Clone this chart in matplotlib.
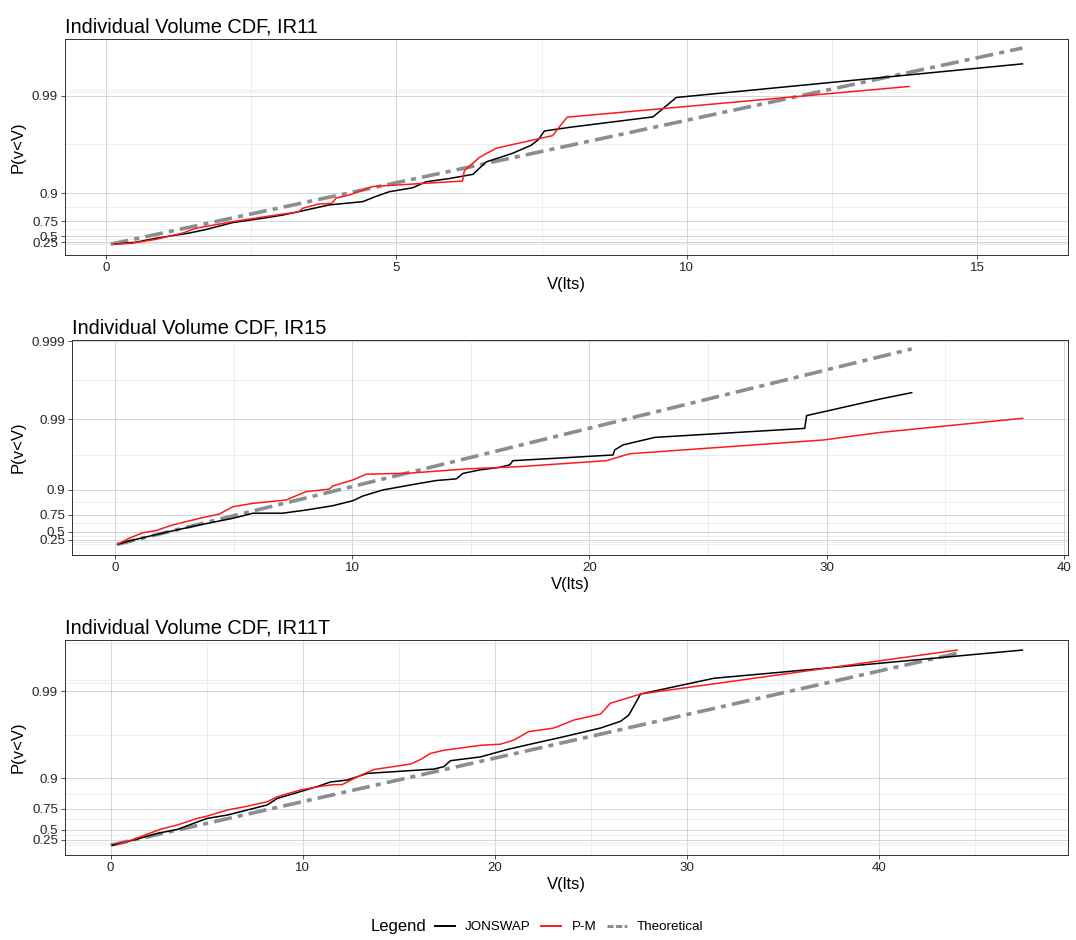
import numpy as np
import matplotlib
matplotlib.use('Agg')
import matplotlib.pyplot as plt
from matplotlib.lines import Line2D

plt.rcParams['font.family'] = ['Liberation Sans', 'DejaVu Sans']

# ---- data (V in lts, P = P(v<V)) ----
# IR11
jon1_v = [0.14, 0.51, 0.86, 1.43, 1.72, 2.18, 2.69, 3.04, 3.39, 3.84, 4.42, 4.65, 4.88, 5.28,
          5.51, 5.91, 6.32, 6.43, 6.55, 7.00, 7.32, 7.44, 7.55, 7.98, 9.42, 9.82, 15.78]
jon1_p = [0.05, 0.25, 0.44, 0.58, 0.645, 0.735, 0.775, 0.80, 0.828, 0.858, 0.872, 0.891, 0.905, 0.915,
          0.928, 0.934, 0.941, 0.9495, 0.957, 0.965, 0.971, 0.9743, 0.979, 0.9806, 0.9845, 0.9896, 0.99457]
pm1_v = [0.14, 0.45, 0.86, 1.32, 1.55, 2.18, 2.69, 3.32, 3.39, 3.66, 3.89, 3.96, 4.19, 4.59,
         6.14, 6.17, 6.43, 6.72, 7.69, 7.94, 13.83]
pm1_p = [0.04, 0.17, 0.40, 0.58, 0.665, 0.745, 0.785, 0.822, 0.842, 0.862, 0.865, 0.885, 0.8955, 0.918,
         0.9295, 0.946, 0.9614, 0.969, 0.9767, 0.9844, 0.99164]
th1_v = [0.08, 15.78]
th1_p = [0.03, 0.99594]

# IR15
jon2_v = [0.11, 0.60, 2.15, 3.56, 4.96, 5.53, 5.81, 7.07, 8.06, 9.18, 10.03, 10.45, 11.29, 12.70,
          13.54, 14.39, 14.67, 15.37, 16.22, 16.64, 16.78, 21.0, 21.07, 21.42, 22.76, 29.08, 29.16,
          32.25, 33.59]
jon2_p = [0.005, 0.205, 0.482, 0.623, 0.712, 0.748, 0.765, 0.765, 0.792, 0.823, 0.853, 0.876, 0.90, 0.919,
          0.928, 0.932, 0.9435, 0.9497, 0.954, 0.9575, 0.963, 0.9693, 0.9739, 0.9778, 0.9825, 0.9868, 0.9911,
          0.9946, 0.99554]
pm2_v = [0.11, 0.60, 1.16, 1.73, 2.43, 3.56, 4.40, 4.96, 5.81, 7.22, 8.06, 9.04, 9.18, 10.03,
         10.59, 12.42, 14.81, 17.06, 20.72, 21.70, 29.86, 32.25, 38.27]
pm2_p = [0.005, 0.311, 0.47, 0.52, 0.623, 0.712, 0.757, 0.816, 0.838, 0.857, 0.894, 0.903, 0.913, 0.9294,
         0.942, 0.944, 0.9514, 0.955, 0.963, 0.9705, 0.9810, 0.9850, 0.99033]
th2_v = [0.10, 33.59]
th2_p = [0.005, 0.99875]

# IR11T
jon3_v = [0.09, 1.21, 2.43, 3.47, 4.34, 5.03, 6.07, 7.11, 8.15, 8.67, 9.89, 10.75, 11.45, 12.32,
          13.36, 16.82, 17.34, 17.69, 19.25, 20.64, 21.85, 23.58, 25.49, 26.54, 26.97, 27.58, 31.39,
          36.59, 40.06, 45.27, 47.45]
jon3_p = [0.02, 0.245, 0.423, 0.50, 0.60, 0.66, 0.695, 0.741, 0.779, 0.819, 0.853, 0.873, 0.889, 0.895,
          0.913, 0.923, 0.928, 0.939, 0.945, 0.955, 0.961, 0.968, 0.9745, 0.9786, 0.9818, 0.9893, 0.99275,
          0.99419, 0.99498, 0.99599, 0.99634]
pm3_v = [0.26, 1.21, 2.60, 3.47, 4.51, 5.03, 6.07, 7.11, 8.15, 8.67, 9.89, 10.93, 11.62, 12.05,
         12.83, 13.70, 15.61, 16.13, 16.65, 17.34, 19.25, 20.29, 20.98, 21.76, 23.06, 24.11, 25.49,
         26.01, 27.58, 44.05]
pm3_p = [0.02, 0.27, 0.505, 0.574, 0.66, 0.685, 0.741, 0.77, 0.80, 0.828, 0.86, 0.874, 0.88, 0.88,
         0.904, 0.922, 0.933, 0.941, 0.950, 0.954, 0.9598, 0.961, 0.965, 0.972, 0.9745, 0.9793, 0.9822,
         0.9865, 0.9893, 0.99634]
th3_v = [0.0, 44.05]
th3_p = [0.02, 0.99604]

titles = ['Individual Volume CDF, IR11', 'Individual Volume CDF, IR15', 'Individual Volume CDF, IR11T']
shape_exp = [1.55, 1.2, 1.2]
p_ticks = [[0.25, 0.5, 0.75, 0.9, 0.99],
           [0.25, 0.5, 0.75, 0.9, 0.99, 0.999],
           [0.25, 0.5, 0.75, 0.9, 0.99]]
p_extra = [[0.9906, 0.9910], [], [0.9918, 0.99244]]
v_ticks = [[0, 5, 10, 15], [0, 10, 20, 30, 40], [0, 10, 20, 30, 40]]
v_minor = [[2.5, 7.5, 12.5], [5, 15, 25, 35], [5, 15, 25, 35, 45]]
# panel range on the transformed probability axis (incl. the 5% expansion)
g_range = [(-0.77, 14.72), (-0.53, 10.22), (-0.39, 8.33)]

series = [
    (jon1_v, jon1_p, pm1_v, pm1_p, th1_v, th1_p),
    (jon2_v, jon2_p, pm2_v, pm2_p, th2_v, th2_p),
    (jon3_v, jon3_p, pm3_v, pm3_p, th3_v, th3_p),
]

# axes boxes in pixels: left, top, right, bottom
boxes = [(65, 39, 1068, 255), (72, 340, 1068, 555), (65, 640, 1068, 855)]

W, H = 1076, 940
GREY = '#8b8e8e'
THEO_LS = (0, (5, 1.7, 1.4, 1.7))


def weibull_scale(k):
    def fwd(p):
        p = np.asarray(p, dtype=float)
        with np.errstate(all='ignore'):
            L = -np.log(1 - p)
            return np.sign(L) * np.abs(L) ** k

    def inv(g):
        g = np.asarray(g, dtype=float)
        with np.errstate(all='ignore'):
            L = np.sign(g) * np.abs(g) ** (1.0 / k)
            return 1 - np.exp(-L)
    return fwd, inv


fig = plt.figure(figsize=(W / 100, H / 100), dpi=100)

for i in range(3):
    l, t, r, b = boxes[i]
    ax = fig.add_axes([l / W, 1 - b / H, (r - l) / W, (b - t) / H])
    fwd, inv = weibull_scale(shape_exp[i])
    ax.set_yscale('function', functions=(fwd, inv))

    jv, jp, pv, pp, tv, tp = series[i]
    ax.plot(tv, tp, color=GREY, lw=2.6, ls=THEO_LS, solid_capstyle='butt',
            dash_capstyle='butt', zorder=3)
    ax.plot(jv, jp, color='black', lw=1.1, zorder=4)
    ax.plot(pv, pp, color='#ff1a1a', lw=1.1, zorder=5)
    ax.margins(x=0.05)

    # y breaks and minor gridlines (midpoints in transformed space)
    majors = p_ticks[i]
    allb = [0.0] + majors
    if majors[-1] < 0.999:
        allb = allb + [0.999]
    mids = [float(inv((fwd(a) + fwd(c)) / 2)) for a, c in zip(allb[:-1], allb[1:])]
    ax.set_yticks(majors)
    ax.set_yticklabels([str(p) for p in majors])
    ax.set_yticks([0.0] + mids + p_extra[i], minor=True)

    ax.set_xticks(v_ticks[i])
    ax.set_xticklabels([str(v) for v in v_ticks[i]])
    ax.set_xticks(v_minor[i], minor=True)

    ax.grid(which='major', color='#d0d0d0', lw=0.6)
    ax.grid(which='minor', color='#e8e8e8', lw=0.5)
    ax.set_axisbelow(True)
    g0, g1 = g_range[i]
    ax.set_ylim(float(inv(g0)), float(inv(g1)))

    ax.tick_params(which='major', length=2.75, width=0.6, color='#333333',
                   labelsize=9.6, labelcolor='#262626', pad=2.2)
    ax.tick_params(which='minor', length=0)
    for s in ax.spines.values():
        s.set_color('#333333')
        s.set_linewidth(0.7)

    ax.set_title(titles[i], loc='left', fontsize=14.4, pad=5.0)
    ax.set_xlabel('V(lts)', fontsize=12, labelpad=2)
    ax.set_ylabel('P(v<V)', fontsize=12)
    ax.yaxis.set_label_coords((26 - l) / (r - l), 0.5)

# legend at the bottom
handles = [Line2D([], [], color='black', lw=1.4),
           Line2D([], [], color='#ff1a1a', lw=1.4),
           Line2D([], [], color=GREY, lw=2.2, ls=(0, (2, 0.8)))]
fig.text(371 / W, 1 - 927 / H, 'Legend', fontsize=12, va='center', ha='left')
fig.legend(handles, ['JONSWAP', 'P-M', 'Theoretical'], loc='center left',
           bbox_to_anchor=(435 / W, 1 - 927 / H), ncol=3, frameon=False, fontsize=9.6,
           handlelength=1.5, handletextpad=0.75, columnspacing=0.8, borderpad=0,
           borderaxespad=0)

fig.savefig('out.png', dpi=100)
